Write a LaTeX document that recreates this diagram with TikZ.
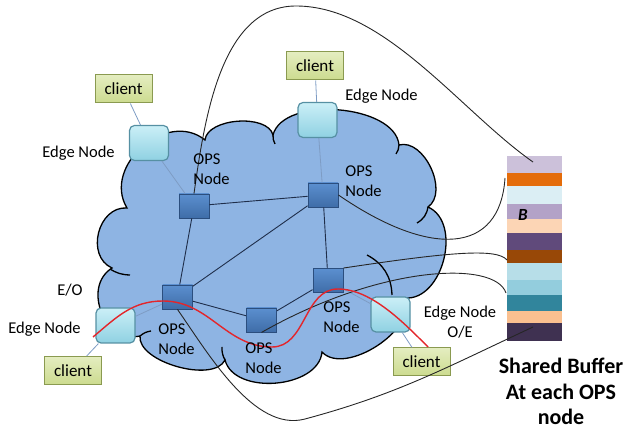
\documentclass[tikz,border=0pt]{standalone}
\usepackage{fontspec}
\setmainfont{Carlito}
\usetikzlibrary{calc}

\definecolor{cloudblue}{HTML}{8EB4E3}
\definecolor{opstop}{HTML}{5B8FCF}
\definecolor{opsbot}{HTML}{3F6DA8}
\definecolor{opsline}{HTML}{2B4E7E}
\definecolor{edgetop}{HTML}{CBEFF7}
\definecolor{edgebot}{HTML}{8FD1E2}
\definecolor{edgeline}{HTML}{5690A3}
\definecolor{clienttop}{HTML}{E4EDC0}
\definecolor{clientbot}{HTML}{CCDB8F}
\definecolor{clientline}{HTML}{8A9A50}
\definecolor{coreline}{HTML}{1F2E4A}
\definecolor{accessline}{HTML}{7E9CC4}
\definecolor{lightred}{HTML}{E3262B}

\begin{document}
\begin{tikzpicture}[x=1pt, y=1pt, thick,
	every node/.style={font=\fontsize{16.5}{20}\selectfont, inner sep=0pt},
	puff/.style={bend left=80, looseness=#1},
	opsbox/.style={draw=opsline, line width=0.9pt, top color=opstop, bottom color=opsbot, minimum width=30pt, minimum height=24pt},
	edgebox/.style={draw=edgeline, line width=1.2pt, rounded corners=5pt, top color=edgetop, bottom color=edgebot, minimum width=39pt, minimum height=35pt},
	clientbox/.style={draw=clientline, line width=1pt, top color=clienttop, bottom color=clientbot, minimum width=57pt, minimum height=28pt, font=\fontsize{17}{20}\selectfont},
	core/.style={draw=coreline, line width=0.9pt},
	access/.style={draw=accessline, line width=0.8pt},
	tobuf/.style={draw=black!85, line width=0.9pt},
	lightpath/.style={draw=lightred, line width=1.4pt}]
	\useasboundingbox (0,0) rectangle (626,430);
	
	% cloud
	\path
	(127,222) coordinate (V1)
	(205,290) coordinate (V2)
	(273,295) coordinate (V3)
	(399,285) coordinate (V4)
	(428,223) coordinate (V5)
	(405,132) coordinate (V6)
	(322,78) coordinate (V7)
	(225,70) coordinate (V8)
	(140,94) coordinate (V9)
	(112,162) coordinate (V10)
	;
	\draw[fill=cloudblue, line width=1.3pt]
	(V1) to[puff=1.21] (V2) to[puff=0.83] (V3) to[puff=0.83] (V4)
	to[puff=0.97] (V5) to[puff=1.04] (V6) to[puff=0.87] (V7)
	to[puff=0.97] (V8) to[puff=0.76] (V9) to[puff=1.25] (V10)
	to[puff=1.21] (V1) -- cycle;
	\draw[line width=1.3pt]
	(110,161) to[bend right=15] (130,155)
	(273,295) to[bend right=15] (275,286)
	(399,285) to[bend left=15] (396,276)
	(428,223) to[bend left=25] (417,207)
	(367,175) to[bend left=30] (392,135)
	(225,70) to[bend left=15] (222,83)
	(140,94) to[bend left=15] (151,99)
	;
	
	% nodes
	\path
	(123.5,341) node[clientbox] (cl1) {client}
	(315,364) node[clientbox] (cl2) {client}
	(73,59.5) node[clientbox] (cl3) {client}
	(421.5,68) node[clientbox] (cl4) {client}
	
	(149,287) node[edgebox] (en1) {}
	(317.5,310) node[edgebox] (en2) {}
	(115.5,104.5) node[edgebox] (en3) {}
	(390.5,115.5) node[edgebox] (en4) {}
	
	(194,224) node[opsbox] (A) {}
	(323,235) node[opsbox] (B) {}
	(328,149.5) node[opsbox] (C) {}
	(177.5,133) node[opsbox] (D) {}
	(261.5,110) node[opsbox] (E) {}
	;
	
	\draw[access] (cl1) -- (en1) (en1) -- (A);
	\draw[access] (cl2) -- (en2) (en2) -- (B);
	\draw[access] (cl3) -- (en3) (en3) -- (D);
	\draw[access] (cl4) -- (en4) (en4) -- (C);
	
	\draw[core] (A) -- (B) (A) -- (D) (B) -- (D) (B) -- (C) (D) -- (E) (E) -- (C);
	
	% shared buffer
	\foreach \c/\ya/\yb in {CCC1DA/274/257, E46C0A/257/244, DBEEF4/244/226, B3A2C7/226/211,
		FCD5B5/211/197, 604A7B/197/180, 984807/180/167, B7DEE8/167/150,
		93CDDD/150/135, 31859C/135/119, FAC090/119/107, 3F3151/107/89}
	{\definecolor{stripe}{HTML}{\c}\fill[stripe] (507,\ya) rectangle (562,\yb);}
	
	\path
	(533,268) coordinate (bufA)
	(505,252) coordinate (bufB)
	(507,170) coordinate (bufC)
	(506,137) coordinate (bufE)
	(533,103) coordinate (bufD)
	;
	\draw[tobuf] (A.north) to[out=82, in=180, looseness=0.9] (296,424) to[out=0, in=145, looseness=0.8] (bufA);
	\draw[tobuf] (B.east) .. controls (430,172) and (500,175) .. (bufB);
	\draw[tobuf] (C.north east) .. controls (450,178) and (497,182) .. (bufC);
	\draw[tobuf] (E.south) .. controls (380,165) and (495,170) .. (bufE);
	\draw[tobuf] (D.south) to[out=-55, in=195, looseness=0.8] (305,11) to[out=15, in=205] (bufD);
	
	% lightpath
	\path
	(93,93) coordinate (r0)
	(163,129) coordinate (pk1)
	(272,83) coordinate (tr)
	(338,141) coordinate (pk2)
	(428,83) coordinate (r1)
	;
	\draw[lightpath] (r0) to[out=40, in=180] (pk1) to[out=0, in=180] (tr)
	to[out=0, in=180] (pk2) to[out=0, in=135, looseness=0.8] (r1);
	
	% labels
	\path
	(42,276.5) node[anchor=west] (lblen1) {Edge Node}
	(193,261) node[anchor=west, align=left] (lblA) {OPS\\Node}
	(345,334) node[anchor=west] (lblen2) {Edge Node}
	(345,249) node[anchor=west, align=left] (lblB) {OPS\\Node}
	(70,140) node (lbleo) {E/O}
	(8,101) node[anchor=west] (lblen3) {Edge Node}
	(158,90.5) node[anchor=west, align=left] (lblD) {OPS\\Node}
	(245,72) node[anchor=west, align=left] (lblE) {OPS\\Node}
	(323,112.5) node[anchor=west, align=left] (lblC) {OPS\\Node}
	(460,108) node[align=center] (lblen4) {Edge Node\\O/E}
	(523,215) node[font=\bfseries\itshape\fontsize{17}{20}\selectfont] (lblbuf) {B}
	(561,38.5) node[align=center, font=\bfseries\fontsize{22}{25.5}\selectfont] (lblshared) {Shared Buffer\\At each OPS\\node}
	;
\end{tikzpicture}
\end{document}
